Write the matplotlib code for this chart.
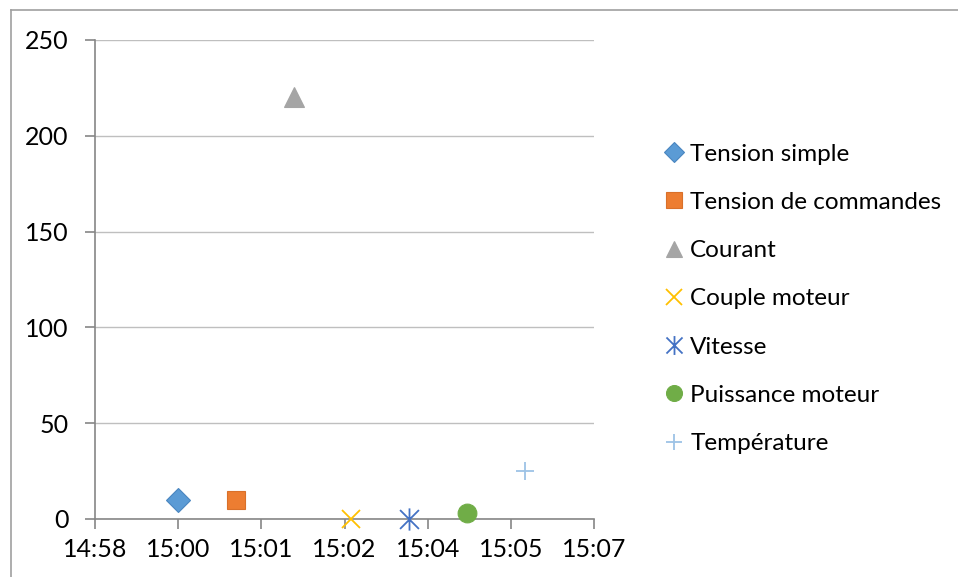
import datetime as dt
import matplotlib
matplotlib.use("Agg")
import matplotlib.pyplot as plt
import matplotlib.dates as mdates
from matplotlib.lines import Line2D
from matplotlib.path import Path
from matplotlib.ticker import FixedLocator, FuncFormatter

# series: one point each (time, value)
series_names = ["Tension simple", "Tension de commandes", "Courant",
                "Couple moteur", "Vitesse", "Puissance moteur", "Température"]
series_times = ["15:00", "15:01", "15:02", "15:03", "15:04", "15:05", "15:06"]
series_values = [10, 10, 220, 0, 0, 3, 25]

# Excel-style axis: 0.624 .. 0.630 day, major unit 0.001 day (86.4 s)
x_start = "14:58:33.6"
x_step_seconds = 86.4
x_tick_count = 7
y_ticks = [0, 50, 100, 150, 200, 250]

# asterisk: an x with a vertical bar
star = Path([(-0.85, -0.85), (0.85, 0.85), (-0.85, 0.85), (0.85, -0.85), (0, -1), (0, 1)],
            [Path.MOVETO, Path.LINETO, Path.MOVETO, Path.LINETO,
             Path.MOVETO, Path.LINETO])

markers = ["D", "s", "^", "x", star, "o", "+"]
colors = ["#5B9BD5", "#ED7D31", "#A5A5A5", "#FFC000", "#4472C4", "#70AD47", "#9DC3E6"]
edges = ["#4A86C0", "#D9702A", "#A5A5A5", "#FFC000", "#4472C4", "#70AD47", "#9DC3E6"]
sizes = [12, 13.5, 14, 13, 16, 13.5, 13]
line_marker = [False, False, False, True, True, False, True]

day = dt.date(2020, 1, 1)


def to_dt(s):
    fmt = "%H:%M:%S.%f" if s.count(":") == 2 else "%H:%M"
    return dt.datetime.combine(day, dt.datetime.strptime(s, fmt).time())


plt.rcParams["font.family"] = ["Lato", "DejaVu Sans"]
plt.rcParams["font.size"] = 18

fig = plt.figure(figsize=(9.58, 5.77), dpi=100)
ax = fig.add_axes([95 / 958, 1 - 519 / 577, (594 - 95) / 958, (519 - 40) / 577])

handles = []
for name, t, v, m, c, e, s, lm in zip(series_names, series_times, series_values,
                                      markers, colors, edges, sizes, line_marker):
    x = mdates.date2num(to_dt(t))
    if lm:
        h, = ax.plot([x], [v], linestyle="none", marker=m, markersize=s,
                     color=c, markerfacecolor="none", markeredgewidth=1.3,
                     label=name, zorder=3, clip_on=False)
    else:
        h, = ax.plot([x], [v], linestyle="none", marker=m, markersize=s,
                     markerfacecolor=c, markeredgecolor=e, markeredgewidth=0.8,
                     label=name, zorder=3, clip_on=False)
    handles.append(h)

x0 = mdates.date2num(to_dt(x_start))
step = x_step_seconds / 86400.0
xticks = [x0 + k * step for k in range(x_tick_count)]
ax.set_xlim(xticks[0], xticks[-1])
ax.set_ylim(y_ticks[0], y_ticks[-1])


def fmt_time(v, pos):
    d = mdates.num2date(v).replace(tzinfo=None)
    d = d + dt.timedelta(microseconds=500000)
    return d.strftime("%H:%M")


ax.xaxis.set_major_locator(FixedLocator(xticks))
ax.xaxis.set_major_formatter(FuncFormatter(fmt_time))
ax.set_yticks(y_ticks)

ax.grid(axis="y", color="#BFBFBF", linewidth=1.0)
ax.set_axisbelow(True)
for side in ["top", "right"]:
    ax.spines[side].set_visible(False)
for side in ["left", "bottom"]:
    ax.spines[side].set_color("#868686")
    ax.spines[side].set_linewidth(1.2)
ax.tick_params(axis="both", direction="out", length=7, width=1.2,
               color="#868686", labelsize=18, labelcolor="black")
ax.tick_params(axis="y", pad=12)
ax.tick_params(axis="x", pad=7)

leg = fig.legend(handles=handles, loc="upper left",
                 bbox_to_anchor=(655 / 958, 1 - 134 / 577), frameon=False,
                 fontsize=17.5, handlelength=0.8, handletextpad=0.25,
                 labelspacing=1.12, markerscale=0.85, borderaxespad=0)

# chart area border (cropped on right/bottom)
fig.add_artist(Line2D([11 / 958, 11 / 958], [0, 1 - 10 / 577],
                      transform=fig.transFigure, color="#A0A0A0", linewidth=1.2))
fig.add_artist(Line2D([11 / 958, 1], [1 - 10 / 577, 1 - 10 / 577],
                      transform=fig.transFigure, color="#A0A0A0", linewidth=1.2))

fig.savefig("out.png", dpi=100)
